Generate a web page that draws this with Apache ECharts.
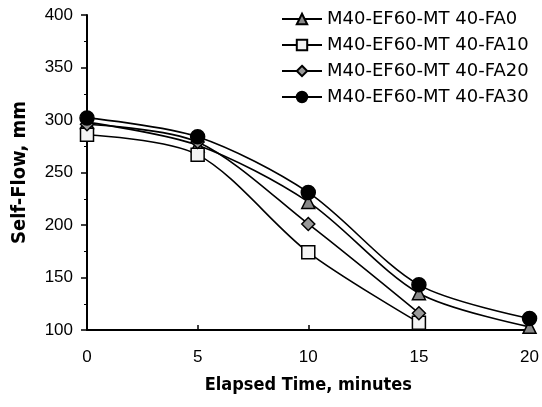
<!DOCTYPE html>
<html>
<head>
<meta charset="utf-8">
<script src="https://cdn.jsdelivr.net/npm/echarts@6/dist/echarts.min.js"></script>
<style>
  html, body { margin: 0; padding: 0; background: #fff; }
  #chart { width: 542px; height: 407px; }
</style>
</head>
<body>
<div id="chart"></div>
<script>
// elapsed time, minutes
const times = [0, 5, 10, 15, 20];

const seriesNames = [
  'M40-EF60-MT 40-FA0',
  'M40-EF60-MT 40-FA10',
  'M40-EF60-MT 40-FA20',
  'M40-EF60-MT 40-FA30',
];

// self-flow, mm
const fa0 = [298, 276, 222, 135, 103];
const fa10 = [286, 267, 174, 107, null];
const fa20 = [296, 279, 201, 116, null];
const fa30 = [302, 284, 231, 143, 111];

const yTicks = [100, 150, 200, 250, 300, 350, 400];

const chart = echarts.init(document.getElementById('chart'));

function pairs(values) {
  return times.map(function (t, i) { return [t, values[i]]; }).filter(function (p) { return p[1] != null; });
}

const markers = [
  { symbol: 'triangle', size: 13, fill: '#888' },
  { symbol: 'rect', size: 13, fill: '#f4f4f4' },
  { symbol: 'diamond', size: 13, fill: '#999' },
  { symbol: 'circle', size: 14, fill: '#000' },
];

const allValues = [fa0, fa10, fa20, fa30];

const option = {
  animation: false,
  backgroundColor: '#fff',
  textStyle: { fontFamily: 'Liberation Sans, Arial, sans-serif', color: '#000' },
  grid: { left: 87, right: 11, top: 15, bottom: 77 },
  legend: {
    orient: 'vertical',
    left: 276,
    top: 5,
    itemWidth: 40,
    itemHeight: 13,
    itemGap: 8,
    textStyle: { fontSize: 18, color: '#000', fontFamily: 'DejaVu Sans' },
    data: seriesNames,
  },
  xAxis: {
    type: 'value',
    min: 0,
    max: 20,
    interval: 5,
    name: 'Elapsed Time, minutes',
    nameLocation: 'middle',
    nameGap: 46,
    nameTextStyle: { fontSize: 18, fontWeight: 'bold', fontFamily: 'DejaVu Sans Condensed', color: '#000' },
    axisLine: { lineStyle: { color: '#000', width: 2 } },
    axisTick: { inside: true, length: 5, lineStyle: { color: '#000', width: 1.5 } },
    axisLabel: { fontSize: 17, color: '#000', margin: 19 },
    splitLine: { show: false },
  },
  yAxis: {
    type: 'value',
    min: yTicks[0],
    max: yTicks[yTicks.length - 1],
    interval: 50,
    name: 'Self-Flow, mm',
    nameLocation: 'middle',
    nameGap: 57,
    nameTextStyle: { fontSize: 20, fontWeight: 'bold', fontFamily: 'DejaVu Sans Condensed', color: '#000' },
    axisLine: { show: true, lineStyle: { color: '#000', width: 2 } },
    axisTick: { show: true, length: 6, lineStyle: { color: '#000', width: 1.5 } },
    minorTick: { show: true, splitNumber: 2, length: 3, lineStyle: { color: '#000' } },
    axisLabel: { fontSize: 17, color: '#000', margin: 14 },
    splitLine: { show: false },
  },
  series: seriesNames.map(function (name, i) {
    return {
      name: name,
      type: 'line',
      smooth: 0.3,
      data: pairs(allValues[i]),
      symbol: markers[i].symbol,
      symbolSize: markers[i].size,
      z: 2 + i,
      lineStyle: { color: '#000', width: 1.6 },
      itemStyle: { color: markers[i].fill, borderColor: '#000', borderWidth: 1.5 },
    };
  }),
};

chart.setOption(option);
</script>
</body>
</html>
